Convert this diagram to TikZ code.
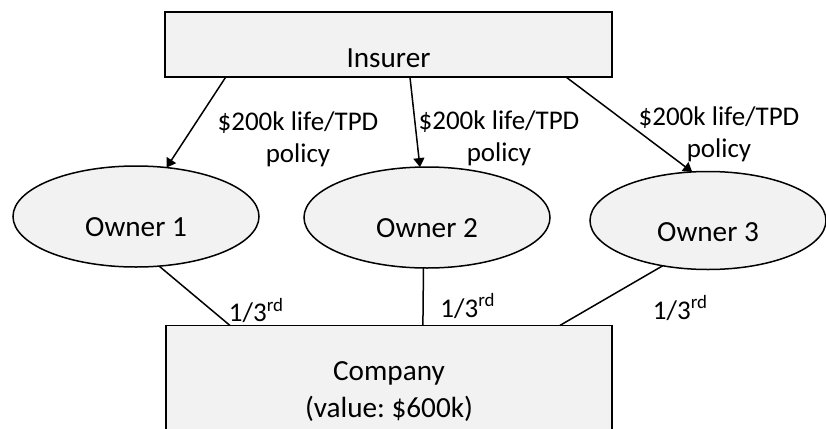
\documentclass[tikz,border=0pt]{standalone}
\usepackage{fontspec}
\setmainfont{Carlito}
\usetikzlibrary{shapes.geometric,arrows.meta,calc}
\definecolor{boxfill}{HTML}{F2F2F2}
\frenchspacing
\begin{document}
\begin{tikzpicture}[x=0.5pt,y=-0.5pt,
  every node/.style={font=\fontsize{13.5}{16}\selectfont},
  box/.style={draw=black,line width=0.75pt,fill=boxfill,rectangle,inner sep=0pt,outer sep=0pt,
    font=\fontsize{14.6}{17.5}\selectfont},
  owner/.style={draw=black,line width=0.75pt,fill=boxfill,ellipse,inner sep=0pt,outer sep=0pt,
    font=\fontsize{14.6}{17.5}\selectfont,
    minimum width=123pt,minimum height=50.5pt,text height=20.6pt,text depth=0.5pt},
  link/.style={line width=0.75pt},
  pay/.style={link,-{Triangle[length=4.5pt,width=5.5pt]}},
  note/.style={align=center,inner sep=0pt},
  share/.style={anchor=base,inner sep=0pt}]
\useasboundingbox (0,0) rectangle (826,429);
% boxes
\node[box,minimum width=223.5pt,minimum height=32.5pt,text height=23.6pt,text depth=0.5pt] (ins) at (388.5,44.5) {Insurer};
\node[owner] (o1) at (136,216.5) {Owner 1};
\node[owner] (o2) at (427,217.5) {Owner 2};
\node[owner,minimum width=118pt,minimum height=49pt,text height=21.6pt] (o3) at (708,220.5) {Owner 3};
\node[box,minimum width=223pt,minimum height=66.5pt,align=center] (co) at (389,392) {Company\\[1pt](value: \$600k)};
% policy arrows
\draw[pay] ($(ins.south west)!0.136!(ins.south east)$) -- (o1.58);
\draw[pay] ($(ins.south west)!0.548!(ins.south east)$) -- (o2.98);
\draw[pay] ($(ins.south west)!0.897!(ins.south east)$) -- (o3.108);
% ownership lines
\draw[link] (o1.-65) -- ($(co.north west)!0.1435!(co.north east)$);
\draw[link] (o2.-94.5) -- ($(co.north west)!0.576!(co.north east)$);
\draw[link] (o3.-135) -- ($(co.north west)!0.883!(co.north east)$);
% labels
\node[note] (l1) at (298,139) {\$200k life/TPD\\policy};
\node[note] (l2) at (499,138) {\$200k life/TPD\\policy};
\node[note] (l3) at (719,134) {\$200k life/TPD\\policy};
\node[share] (s1) at (256.5,321.5) {1/3\textsuperscript{rd}};
\node[share] (s2) at (468,317) {1/3\textsuperscript{rd}};
\node[share] (s3) at (680.5,319) {1/3\textsuperscript{rd}};
\end{tikzpicture}
\end{document}
